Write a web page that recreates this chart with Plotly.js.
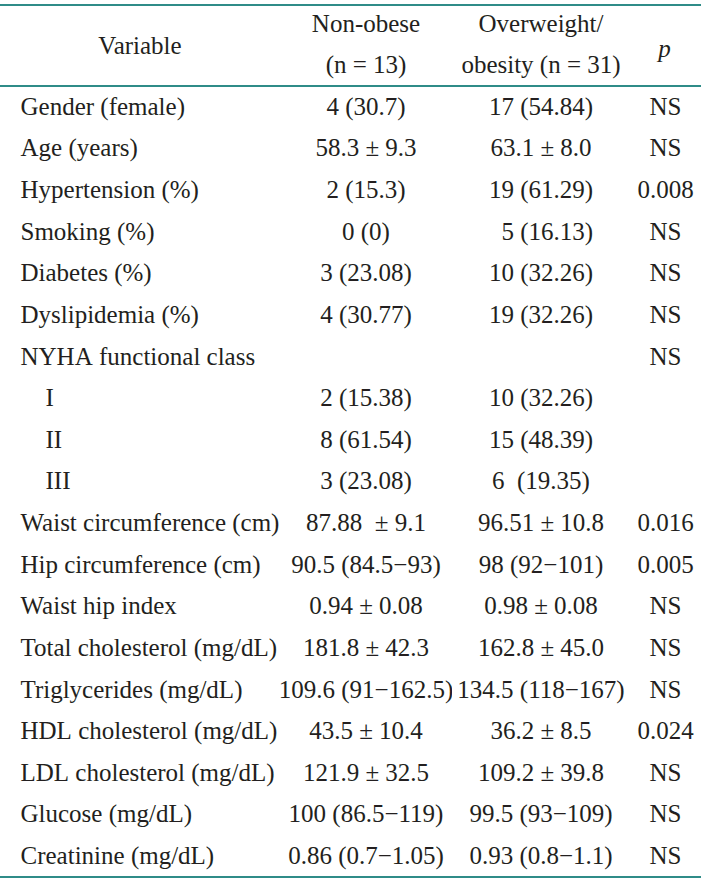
<!DOCTYPE html>
<html>
<head>
<meta charset="utf-8">
<script src="https://cdn.plot.ly/plotly-3.0.1.min.js"></script>
<style>html,body{margin:0;padding:0;background:#fff;}#chart{width:701px;height:883px;}</style>
</head>
<body>
<div id="chart"></div>
<script>
// Header texts
var headerLine1 = ["", "Non-obese", "Overweight/", ""];
var headerLine2 = ["", "(n = 13)", "obesity (n = 31)", ""];
var headerMiddle = ["Variable", "", "", "<i>p</i>"];

// Table body
var variables = ["Gender (female)", "Age (years)", "Hypertension (%)", "Smoking (%)", "Diabetes (%)", "Dyslipidemia (%)", "NYHA functional class", "    I", "    II", "    III", "Waist circumference (cm)", "Hip circumference (cm)", "Waist hip index", "Total cholesterol (mg/dL)", "Triglycerides (mg/dL)", "HDL cholesterol (mg/dL)", "LDL cholesterol (mg/dL)", "Glucose (mg/dL)", "Creatinine (mg/dL)"];
var nonObese = ["4 (30.7)", "58.3 ± 9.3", "2 (15.3)", "0 (0)", "3 (23.08)", "4 (30.77)", "", "2 (15.38)", "8 (61.54)", "3 (23.08)", "87.88  ± 9.1", "90.5 (84.5−93)", "0.94 ± 0.08", "181.8 ± 42.3", "109.6 (91−162.5)", "43.5 ± 10.4", "121.9 ± 32.5", "100 (86.5−119)", "0.86 (0.7−1.05)"];
var overweight = ["17 (54.84)", "63.1 ± 8.0", "19 (61.29)", "  5 (16.13)", "10 (32.26)", "19 (32.26)", "", "10 (32.26)", "15 (48.39)", "6  (19.35)", "96.51 ± 10.8", "98 (92−101)", "0.98 ± 0.08", "162.8 ± 45.0", "134.5 (118−167)", "36.2 ± 8.5", "109.2 ± 39.8", "99.5 (93−109)", "0.93 (0.8−1.1)"];
var pValues = ["NS", "NS", "0.008", "NS", "NS", "NS", "NS", "", "", "", "0.016", "0.005", "NS", "NS", "NS", "0.024", "NS", "NS", "NS"];

var W = 701, H = 883;
var topRule = 5, headRule = 86, bottomRule = 877;
var ink = "#231f20";
var teal = "#2f8c88";
var fontFam = "Liberation Serif, Times New Roman, serif";
var fsize = 25;
var colW = [280, 172, 178, 71];

function nb(s) { return s.replace(/ /g, "\u00a0"); }

var rowH = (bottomRule - headRule) / variables.length;
var headH = 41.5;
var tableTop = headRule - rowH - headH + 2;

var font = {family: fontFam, size: fsize, color: ink};
var clear = {color: "rgba(0,0,0,0)"};
var noLine = {color: "rgba(0,0,0,0)", width: 0};

var body = {
  type: "table",
  domain: {x: [0, 1], y: [0, 1 - tableTop / H]},
  columnwidth: colW,
  header: {
    values: headerLine1.map(nb),
    align: "center",
    height: headH,
    fill: clear, line: noLine, font: font
  },
  cells: {
    values: [
      [headerLine2[0]].concat(variables.map(function (v) { return nb("  " + v); })),
      [headerLine2[1]].concat(nonObese).map(nb),
      [headerLine2[2]].concat(overweight).map(nb),
      [headerLine2[3]].concat(pValues).map(nb)
    ],
    align: ["left", "center", "center", "center"],
    height: rowH,
    fill: clear, line: noLine, font: font
  }
};

var midTop = 27;
var middle = {
  type: "table",
  domain: {x: [0, 1], y: [1 - (midTop + headH + 2) / H, 1 - midTop / H]},
  columnwidth: colW,
  header: {
    values: headerMiddle,
    align: "center",
    height: headH,
    fill: clear, line: noLine, font: font
  },
  cells: {values: [[], [], [], []], fill: clear, line: noLine, height: 1}
};

function rule(y) {
  return {type: "line", xref: "paper", yref: "paper", x0: 0, x1: 1,
          y0: 1 - y / H, y1: 1 - y / H, line: {color: teal, width: 2}};
}

var layout = {
  width: W, height: H,
  margin: {l: 0, r: 0, t: 0, b: 0},
  paper_bgcolor: "#fff",
  plot_bgcolor: "#fff",
  shapes: [rule(topRule), rule(headRule), rule(bottomRule)]
};

Plotly.newPlot("chart", [body, middle], layout, {displayModeBar: false, staticPlot: true});
</script>
</body>
</html>
